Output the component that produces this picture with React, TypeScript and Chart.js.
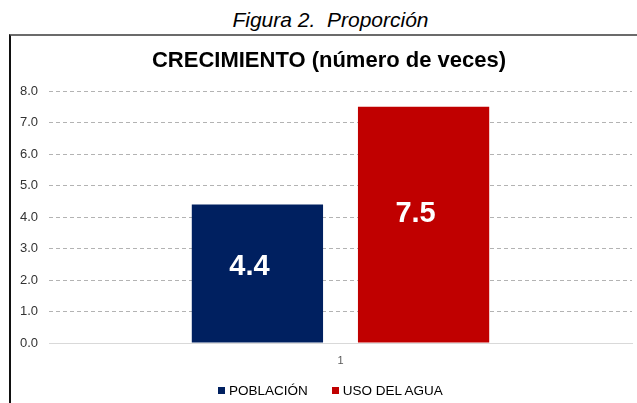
import React, { useEffect, useRef } from "react";
import { Chart, registerables } from "chart.js";

Chart.register(...registerables);

const categories = ["1"];
const seriesNames = ["POBLACIÓN", "USO DEL AGUA"];
const poblacion = [4.4];
const usoDelAgua = [7.5];
const seriesColors = ["#002060", "#C00000"];
const yMin = 0;
const yMax = 8;
const yStep = 1;
const figureCaption = "Figura 2.  Proporción";
const chartTitle = "CRECIMIENTO (número de veces)";

const FONT = "'Liberation Sans', Arial, sans-serif";

const valueLabels = {
  id: "valueLabels",
  afterDatasetsDraw(chart: any) {
    const ctx = chart.ctx;
    ctx.save();
    ctx.font = `bold 29px ${FONT}`;
    ctx.fillStyle = "#ffffff";
    ctx.textAlign = "center";
    ctx.textBaseline = "middle";
    chart.data.datasets.forEach((ds: any, i: number) => {
      const meta = chart.getDatasetMeta(i);
      meta.data.forEach((bar: any, j: number) => {
        const v = ds.data[j];
        const cy = bar.base + (bar.y - bar.base) * 0.545;
        ctx.fillText(v.toFixed(1), bar.x - 8, cy);
      });
    });
    ctx.restore();
  },
};

export default function App() {
  const ref = useRef<HTMLCanvasElement | null>(null);

  useEffect(() => {
    if (!ref.current) return;
    const chart = new Chart(ref.current, {
      type: "bar",
      data: {
        labels: categories,
        datasets: [
          {
            label: seriesNames[0],
            data: poblacion,
            backgroundColor: seriesColors[0],
            categoryPercentage: 0.57,
            barPercentage: 0.79,
          },
          {
            label: seriesNames[1],
            data: usoDelAgua,
            backgroundColor: seriesColors[1],
            categoryPercentage: 0.57,
            barPercentage: 0.79,
          },
        ],
      },
      options: {
        responsive: false,
        animation: false,
        devicePixelRatio: 1,
        layout: { padding: { left: 7, right: 15, top: 55, bottom: 30 } },
        font: { family: FONT },
        scales: {
          x: {
            grid: { display: false, drawTicks: false },
            border: { display: true, color: "#d9d9d9", width: 1 },
            ticks: { color: "#595959", font: { family: FONT, size: 11 }, padding: 11 },
            afterFit: (s: any) => {
              s.height = 30;
            },
          },
          y: {
            min: yMin,
            max: yMax,
            grid: {
              drawTicks: false,
              color: (c: any) => (c.tick && c.tick.value === 0 ? "rgba(0,0,0,0)" : "#b3b3b3"),
              lineWidth: 1,
            },
            border: { display: false, dash: [4, 3] },
            ticks: {
              stepSize: yStep,
              padding: 11,
              color: "#333333",
              font: { family: FONT, size: 13 },
              callback: (v: any) => Number(v).toFixed(1),
            },
            afterFit: (s: any) => {
              s.width = 31;
            },
          },
        },
        plugins: {
          title: { display: false },
          legend: { display: false },
          tooltip: { enabled: false },
        },
      },
      plugins: [valueLabels],
    } as any);
    return () => chart.destroy();
  }, []);

  return (
    <div
      style={{
        position: "fixed",
        left: 0,
        top: 0,
        width: 637,
        height: 403,
        overflow: "hidden",
        background: "#ffffff",
      }}
    >
      <div
        style={{
          position: "absolute",
          left: 0,
          top: 7,
          width: 661,
          textAlign: "center",
          fontFamily: FONT,
          fontStyle: "italic",
          fontSize: 21,
          lineHeight: "25px",
          color: "#000",
          whiteSpace: "pre",
        }}
      >
        {figureCaption}
      </div>
      <div
        style={{
          position: "absolute",
          left: 9,
          top: 34,
          width: 700,
          height: 400,
          borderTop: "2px solid #6b6b6b",
          borderLeft: "2px solid #111111",
          boxSizing: "border-box",
        }}
      />
      <canvas
        ref={ref}
        width={636}
        height={367}
        style={{ position: "absolute", left: 11, top: 36, width: 636, height: 367 }}
      />
      <div
        style={{
          position: "absolute",
          left: 0,
          top: 47,
          width: 658,
          textAlign: "center",
          fontFamily: FONT,
          fontWeight: "bold",
          fontSize: 22,
          lineHeight: "26px",
          color: "#000",
          whiteSpace: "pre",
        }}
      >
        {chartTitle}
      </div>
      <div
        style={{
          position: "absolute",
          left: 218,
          top: 382,
          height: 16,
          display: "flex",
          alignItems: "center",
          fontFamily: FONT,
          fontSize: 13.5,
          color: "#000",
          whiteSpace: "pre",
        }}
      >
        {seriesNames.map((name, i) => (
          <div
            key={name}
            style={{ display: "flex", alignItems: "center", marginRight: i === 0 ? 24 : 0 }}
          >
            <span
              style={{ display: "inline-block", width: 7, height: 7, background: seriesColors[i], marginRight: 4 }}
            />
            <span>{name}</span>
          </div>
        ))}
      </div>
    </div>
  );
}
